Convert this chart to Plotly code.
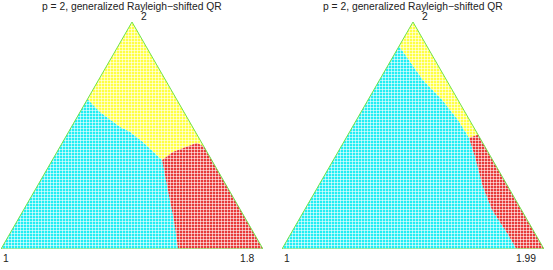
import plotly.graph_objects as go
import math

H = math.sqrt(3) / 2

# Triangle vertices (unit equilateral), labels
vertex_labels_left = ["1", "1.8", "2"]
vertex_labels_right = ["1", "1.99", "2"]
title_text = "p = 2, generalized Rayleigh\u2212shifted QR"

# ---- Left panel region boundaries (x, y in triangle coords) ----
L_yc_x = [0.330, 0.378, 0.454, 0.492, 0.542, 0.615]      # yellow/cyan boundary, left edge -> junction
L_yc_y = [0.572, 0.523, 0.466, 0.447, 0.408, 0.340]
L_yr_x = [0.615, 0.656, 0.695, 0.748, 0.775]              # yellow/red boundary, junction -> right edge
L_yr_y = [0.340, 0.370, 0.385, 0.405, 0.390]
L_cr_x = [0.615, 0.637, 0.660, 0.676]                     # cyan/red boundary, junction -> bottom
L_cr_y = [0.340, 0.225, 0.111, 0.000]

# ---- Right panel region boundaries ----
R_yc_x = [0.447, 0.538, 0.611, 0.672, 0.714]
R_yc_y = [0.774, 0.645, 0.569, 0.492, 0.424]
R_yr_x = [0.714, 0.748]
R_yr_y = [0.424, 0.436]
R_cr_x = [0.714, 0.740, 0.767, 0.802, 0.859, 0.895]
R_cr_y = [0.424, 0.340, 0.237, 0.149, 0.061, 0.000]

CYAN = "#22eef4"
YELLOW = "#ffff44"
RED = "#e83a3a"
GREEN = "#6fe34a"


def regions(yc_x, yc_y, yr_x, yr_y, cr_x, cr_y):
    cx = [0.0, cr_x[-1]] + cr_x[::-1][1:] + yc_x[::-1][1:] + [0.0]
    cy = [0.0, cr_y[-1]] + cr_y[::-1][1:] + yc_y[::-1][1:] + [0.0]
    yx = [yc_x[0], 0.5, yr_x[-1]] + yr_x[::-1][1:] + yc_x[::-1][1:]
    yy = [yc_y[0], H, yr_y[-1]] + yr_y[::-1][1:] + yc_y[::-1][1:]
    rx = [yr_x[-1], 1.0, cr_x[-1]] + cr_x[::-1][1:] + yr_x[1:]
    ry = [yr_y[-1], 0.0, cr_y[-1]] + cr_y[::-1][1:] + yr_y[1:]
    return (cx, cy), (yx, yy), (rx, ry)


fig = go.Figure()


def add_panel(idx, data, labels):
    xa = "x" if idx == 1 else "x2"
    ya = "y" if idx == 1 else "y2"
    for (px, py), col in zip(regions(*data), [CYAN, YELLOW, RED]):
        fig.add_trace(go.Scatter(
            x=px, y=py, mode="lines", fill="toself", line=dict(width=0, color=col),
            fillpattern=dict(shape="+", bgcolor=col, fgcolor="white", size=3, solidity=0.35, fillmode="replace"),
            xaxis=xa, yaxis=ya, hoverinfo="skip", showlegend=False))
    fig.add_trace(go.Scatter(
        x=[0, 1, 0.5, 0], y=[0, 0, H, 0], mode="lines",
        line=dict(color=GREEN, width=1), xaxis=xa, yaxis=ya,
        hoverinfo="skip", showlegend=False))
    fnt = dict(family="Liberation Sans, Arial", size=10.3, color="#222")
    fig.add_annotation(x=0, y=0, xref=xa, yref=ya, text=labels[0], showarrow=False,
                       xanchor="left", yanchor="top", yshift=-2, font=fnt)
    fig.add_annotation(x=1, y=0, xref=xa, yref=ya, text=labels[1], showarrow=False,
                       xanchor="right", yanchor="top", yshift=-2, xshift=-6, font=fnt)
    fig.add_annotation(x=0.5, y=H, xref=xa, yref=ya, text=labels[2], showarrow=False,
                       xanchor="left", yanchor="middle", xshift=7, yshift=6, font=fnt)
    fig.add_annotation(x=0.5, y=1, xref=xa, yref="paper", text=title_text, showarrow=False,
                       xanchor="center", yanchor="middle", yshift=-6, font=fnt)


add_panel(1, (L_yc_x, L_yc_y, L_yr_x, L_yr_y, L_cr_x, L_cr_y), vertex_labels_left)
add_panel(2, (R_yc_x, R_yc_y, R_yr_x, R_yr_y, R_cr_x, R_cr_y), vertex_labels_right)

W, Hh = 553, 270
ybot = (Hh - 249) / Hh
ytop = (Hh - 22) / Hh
ax = dict(visible=False, fixedrange=True)
fig.update_layout(
    width=W, height=Hh, margin=dict(l=0, r=0, t=0, b=0),
    paper_bgcolor="white", plot_bgcolor="white",
    xaxis=dict(domain=[1 / W, 263 / W], range=[0, 1], **ax),
    yaxis=dict(domain=[ybot, ytop], range=[0, H], **ax),
    xaxis2=dict(domain=[282 / W, 544 / W], range=[0, 1], **ax),
    yaxis2=dict(domain=[ybot, ytop], range=[0, H], **ax),
)

fig.write_html("out.html", config={"displayModeBar": False})
